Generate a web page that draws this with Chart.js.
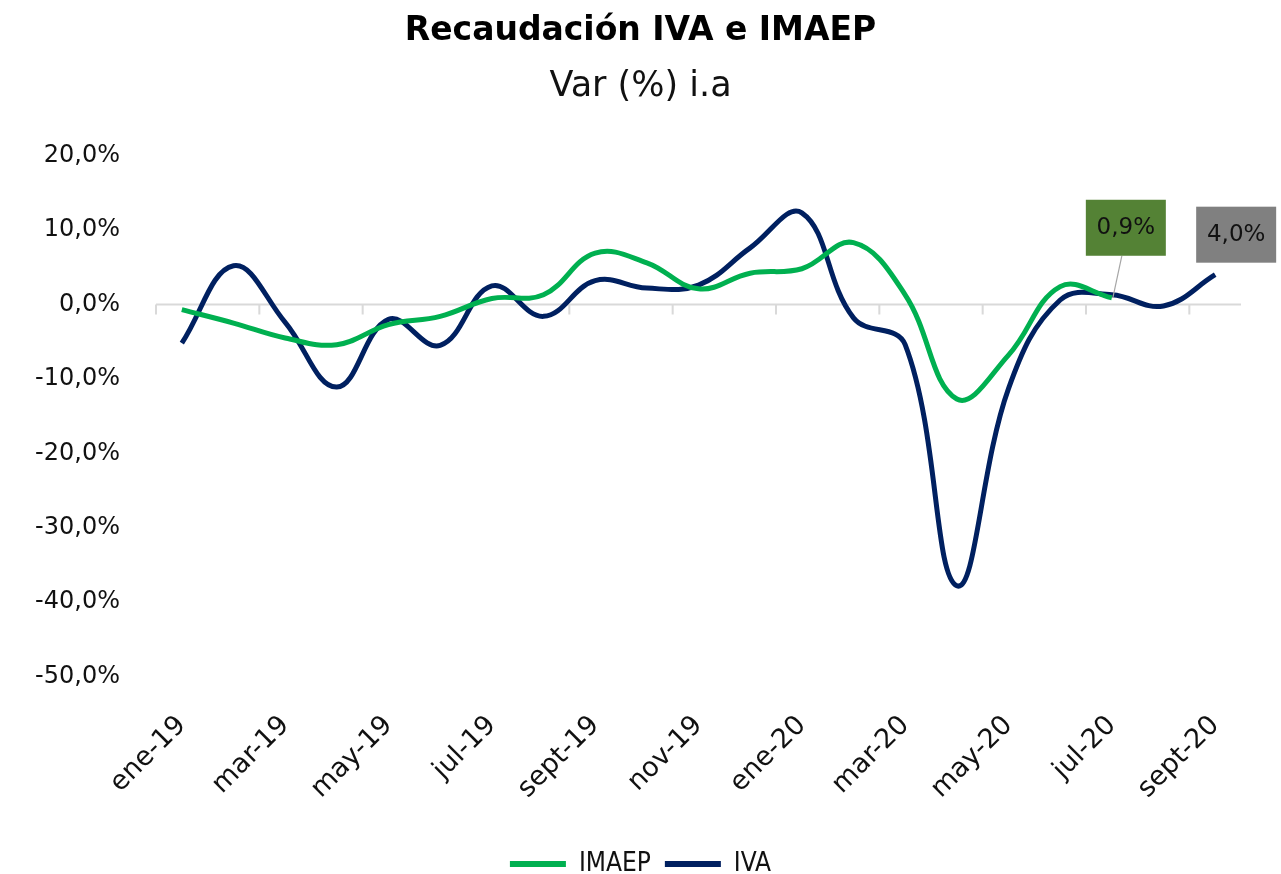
<!DOCTYPE html>
<html>
<head>
<meta charset="utf-8">
<script src="https://cdn.jsdelivr.net/npm/chart.js@4/dist/chart.umd.min.js"></script>
<style>
  html, body { margin: 0; padding: 0; background: #fff; }
  #wrap { width: 1281px; height: 874px; }
</style>
</head>
<body>
<div id="wrap"><canvas id="chart"></canvas></div>
<script>
// monthly categories, ene-19 .. sept-20
const months = ['ene-19', 'feb-19', 'mar-19', 'abr-19', 'may-19', 'jun-19', 'jul-19', 'ago-19',
  'sept-19', 'oct-19', 'nov-19', 'dic-19', 'ene-20', 'feb-20', 'mar-20', 'abr-20', 'may-20',
  'jun-20', 'jul-20', 'ago-20', 'sept-20'];

// var % i.a.
const imaep = [-0.7, -2.5, -4.5, -5.4, -2.7, -1.6, 0.8, 1.3, 6.9, 5.6, 2.1, 4.2, 4.8, 8.3,
  1.3, -12.7, -6.8, 2.4, 0.9];
const iva = [-5.2, 5.2, -2.4, -11.1, -2.0, -5.5, 2.5, -1.6, 3.2, 2.2, 2.6, 7.6, 12.3, -1.8,
  -5.4, -37.8, -11.3, 0.6, 1.3, -0.2, 4.0];

const yTicks = [-50, -40, -30, -20, -10, 0, 10, 20];

const fmt = v => v.toFixed(1).replace('.', ',') + '%';
const FONT = "'DejaVu Sans', sans-serif";

// zero line + tick marks hanging from it (Excel style axis)
const zeroAxis = {
  id: 'zeroAxis',
  beforeDatasetsDraw(chart) {
    const { ctx, chartArea, scales } = chart;
    const y0 = scales.y.getPixelForValue(0);
    const half = (scales.x.getPixelForValue(1) - scales.x.getPixelForValue(0)) / 2;
    ctx.save();
    ctx.strokeStyle = '#d9d9d9';
    ctx.lineWidth = 2;
    ctx.beginPath();
    ctx.moveTo(chartArea.left, y0);
    ctx.lineTo(chartArea.right, y0);
    for (let i = 0; i < months.length; i += 2) {
      const x = scales.x.getPixelForValue(i) - half;
      ctx.moveTo(x, y0);
      ctx.lineTo(x, y0 + 10);
    }
    ctx.stroke();
    ctx.restore();
  }
};

// boxed labels on the last values
const lastLabels = {
  id: 'lastLabels',
  afterDatasetsDraw(chart) {
    const { ctx } = chart;
    const boxes = [
      { ds: 0, idx: imaep.length - 1, val: imaep[imaep.length - 1], bg: '#548235', dx: 14, dy: -70, w: 80, h: 56, leader: true },
      { ds: 1, idx: iva.length - 1, val: iva[iva.length - 1], bg: '#808080', dx: 21, dy: -40, w: 80, h: 56, leader: false }
    ];
    ctx.save();
    boxes.forEach(b => {
      const pt = chart.getDatasetMeta(b.ds).data[b.idx];
      const cx = pt.x + b.dx, cy = pt.y + b.dy;
      if (b.leader) {
        ctx.strokeStyle = '#a6a6a6';
        ctx.lineWidth = 1.2;
        ctx.beginPath();
        ctx.moveTo(cx - 4, cy + b.h / 2);
        ctx.lineTo(pt.x + 1, pt.y);
        ctx.stroke();
      }
      ctx.fillStyle = b.bg;
      ctx.fillRect(cx - b.w / 2, cy - b.h / 2, b.w, b.h);
      ctx.fillStyle = '#111';
      ctx.font = '23px ' + FONT;
      ctx.textAlign = 'center';
      ctx.textBaseline = 'middle';
      ctx.fillText(fmt(b.val), cx, cy);
    });
    ctx.restore();
  }
};

new Chart(document.getElementById('chart'), {
  type: 'line',
  data: {
    labels: months,
    datasets: [
      { label: 'IMAEP', data: imaep, borderColor: '#00b050', backgroundColor: '#00b050',
        borderWidth: 5, pointRadius: 0, tension: 0.4, fill: false },
      { label: 'IVA', data: iva, borderColor: '#002060', backgroundColor: '#002060',
        borderWidth: 5, pointRadius: 0, tension: 0.4, fill: false }
    ]
  },
  options: {
    responsive: true,
    maintainAspectRatio: false,
    animation: false,
    layout: { padding: { left: 0, right: 0, top: 8, bottom: -13 } },
    scales: {
      x: {
        offset: true,
        grid: { display: false },
        border: { display: false },
        afterFit: s => { s.height += 7; },
        ticks: {
          autoSkip: false,
          minRotation: 45, maxRotation: 45,
          padding: 25,
          color: '#111',
          font: { family: FONT, size: 27 },
          callback: (v, i) => i % 2 === 0 ? months[i] : ''
        }
      },
      y: {
        min: yTicks[0], max: yTicks[yTicks.length - 1],
        afterBuildTicks: s => { s.ticks = yTicks.map(v => ({ value: v })); },
        afterFit: s => { s.width = 156; },
        grid: { display: false, drawTicks: false },
        border: { display: false },
        ticks: {
          padding: 36,
          color: '#111',
          font: { family: FONT, size: 24 },
          callback: v => fmt(v)
        }
      },
      // empty right-hand axis, only keeps room on the right so titles stay centred on the page
      yRight: {
        position: 'right',
        min: yTicks[0], max: yTicks[yTicks.length - 1],
        afterFit: s => { s.width = 40; },
        grid: { display: false, drawTicks: false },
        border: { display: false },
        ticks: { display: false }
      }
    },
    plugins: {
      title: {
        display: true,
        text: 'Recaudación IVA e IMAEP',
        color: '#000',
        font: { family: FONT, size: 33, weight: 'bold' },
        padding: { top: 4, bottom: 14 }
      },
      subtitle: {
        display: true,
        text: 'Var (%) i.a',
        color: '#111',
        font: { family: FONT, size: 35 },
        padding: { top: 0, bottom: 48 }
      },
      legend: {
        position: 'bottom',
        labels: {
          boxWidth: 56,
          boxHeight: 6,
          padding: 14,
          color: '#111',
          font: { family: "'DejaVu Sans Condensed', 'DejaVu Sans', sans-serif", size: 26 },
          generateLabels: chart => Chart.defaults.plugins.legend.labels.generateLabels(chart)
            .map(l => Object.assign(l, { lineWidth: 0 }))
        }
      },
      tooltip: { enabled: false }
    }
  },
  plugins: [zeroAxis, lastLabels]
});
</script>
</body>
</html>
